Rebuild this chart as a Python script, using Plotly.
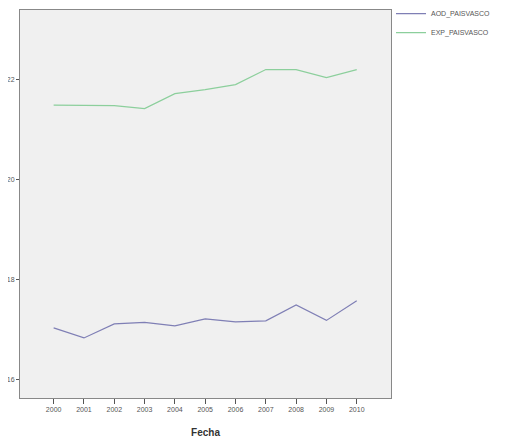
import plotly.graph_objects as go

years = [2000, 2001, 2002, 2003, 2004, 2005, 2006, 2007, 2008, 2009, 2010]
aod_paisvasco = [17.03, 16.83, 17.11, 17.14, 17.07, 17.21, 17.15, 17.17, 17.49, 17.18, 17.57]
exp_paisvasco = [21.48, 21.48, 21.47, 21.41, 21.71, 21.79, 21.89, 22.19, 22.19, 22.03, 22.19]
y_ticks = [16, 18, 20, 22]

fig = go.Figure()
fig.add_trace(go.Scatter(x=years, y=aod_paisvasco, mode="lines", name="AOD_PAISVASCO",
                         line=dict(color="#7f7fb5", width=1.2)))
fig.add_trace(go.Scatter(x=years, y=exp_paisvasco, mode="lines", name="EXP_PAISVASCO",
                         line=dict(color="#8ccf9c", width=1.2)))

fig.update_layout(
    width=502, height=431,
    margin=dict(l=12, r=119, t=2, b=41, autoexpand=False),
    paper_bgcolor="white",
    plot_bgcolor="#f0f0f0",
    font=dict(family="Liberation Sans, Arial, sans-serif", size=8, color="#444"),
    legend=dict(x=1.0, y=1.028, xanchor="left", yanchor="top", bgcolor="rgba(0,0,0,0)",
                font=dict(size=7, color="#555"), tracegroupgap=0, itemwidth=30),
    showlegend=True,
)
fig.update_xaxes(
    range=[1998.89, 2011.13], tickvals=years, ticktext=[str(y) for y in years],
    showgrid=False, zeroline=False, showline=True, linecolor="#888", linewidth=1, mirror=True,
    ticks="outside", ticklen=5, tickcolor="#555", automargin=False,
    title=dict(text="<b>Fecha</b>", font=dict(size=10, color="#333"), standoff=16),
    tickfont=dict(size=7, color="#555"),
)
fig.update_yaxes(
    range=[15.63, 23.38], tickvals=y_ticks, ticktext=[str(v) for v in y_ticks],
    showgrid=False, zeroline=False, showline=True, linecolor="#888", linewidth=1, mirror=True,
    ticks="outside", ticklen=3, tickcolor="#555", automargin=False,
    tickfont=dict(size=7, color="#555"),
)
fig.write_html("out.html")
